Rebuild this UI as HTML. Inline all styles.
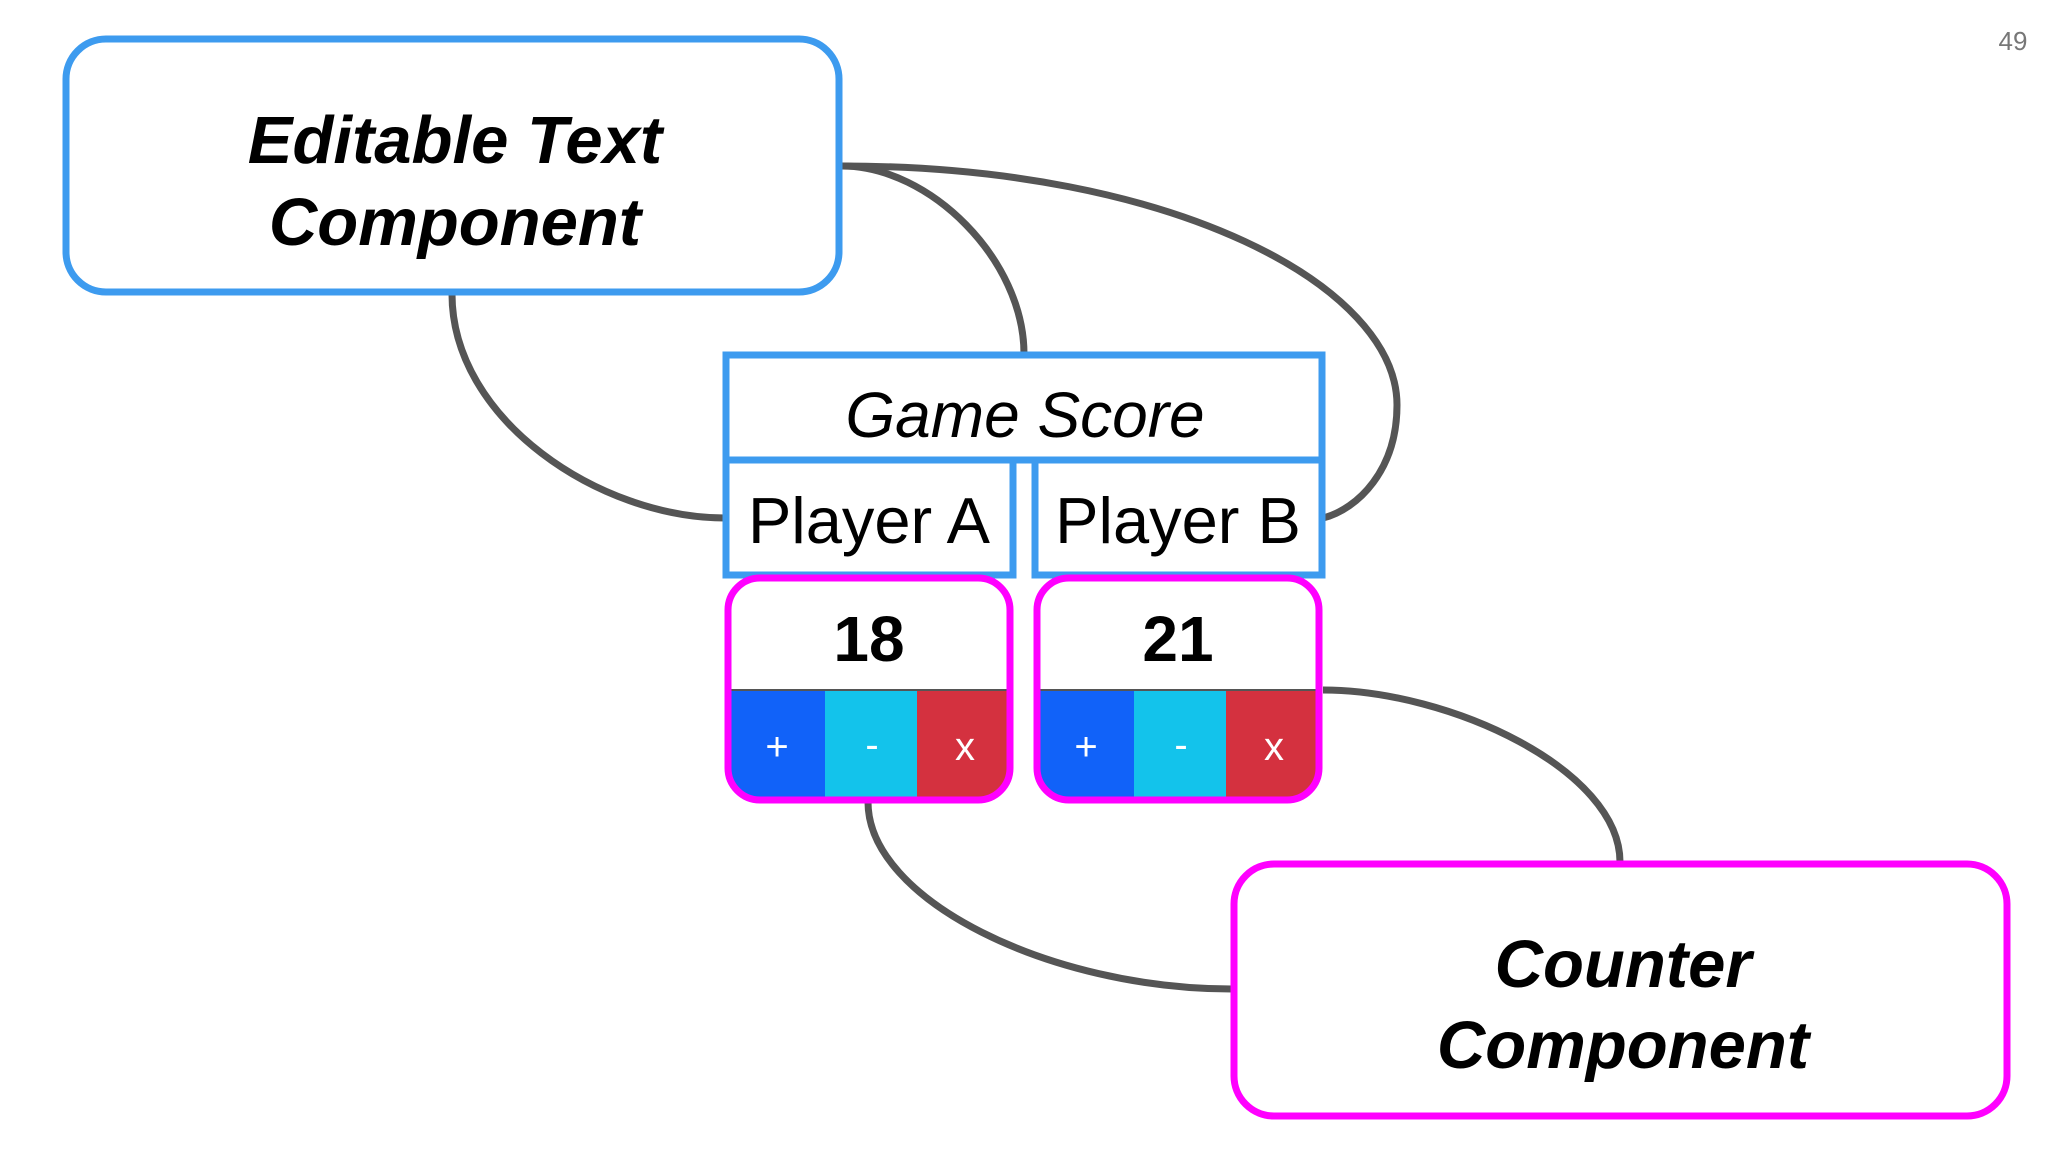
<!DOCTYPE html>
<html><head><meta charset="utf-8"><style>
html,body{margin:0;padding:0;background:#fff;}
svg{display:block;}
text{font-family:"Liberation Sans",sans-serif;}
</style></head><body>
<svg width="2048" height="1152" viewBox="0 0 2048 1152" xmlns="http://www.w3.org/2000/svg">
<rect width="2048" height="1152" fill="#fff"/>
<g fill="none" stroke="#555" stroke-width="7">
<path d="M452,294 C452,420 600,518 725,518"/>
<path d="M842,166 C930,166 1024,260 1024,354"/>
<path d="M842,166 C1175,166 1397,287 1397,405 C1397,470 1358,509 1323,518"/>
<path d="M1323,690 C1450,690 1620,770 1620,862"/>
<path d="M868,802 C868,900 1050,989 1232,989"/>
</g>
<rect x="66" y="39" width="773" height="253" rx="40" fill="#fff" stroke="#3d9bef" stroke-width="7"/>
<text x="455" y="163" font-size="67" font-weight="bold" font-style="italic" text-anchor="middle">Editable Text</text>
<text x="455" y="245" font-size="67" font-weight="bold" font-style="italic" text-anchor="middle">Component</text>

<rect x="726" y="355" width="596" height="105" fill="#fff" stroke="#3d9bef" stroke-width="7"/>
<text x="1025" y="437" font-size="64" font-style="italic" text-anchor="middle">Game Score</text>
<rect x="726" y="460" width="287" height="115" fill="#fff" stroke="#3d9bef" stroke-width="7"/>
<rect x="1035" y="460" width="287" height="115" fill="#fff" stroke="#3d9bef" stroke-width="7"/>
<text x="869" y="543" font-size="65" text-anchor="middle">Player A</text>
<text x="1178" y="543" font-size="65" text-anchor="middle">Player B</text>

<defs>
<clipPath id="c1"><rect x="728" y="578" width="282" height="222" rx="32"/></clipPath>
<clipPath id="c2"><rect x="1037" y="578" width="282" height="222" rx="32"/></clipPath>
</defs>
<g clip-path="url(#c1)">
<rect x="725" y="690" width="100" height="112" fill="#1162f9"/>
<rect x="825" y="690" width="92" height="112" fill="#13c3eb"/>
<rect x="917" y="690" width="96" height="112" fill="#d4313f"/>
<line x1="725" y1="690" x2="1013" y2="690" stroke="#555" stroke-width="2"/>
</g>
<g clip-path="url(#c2)">
<rect x="1034" y="690" width="100" height="112" fill="#1162f9"/>
<rect x="1134" y="690" width="92" height="112" fill="#13c3eb"/>
<rect x="1226" y="690" width="97" height="112" fill="#d4313f"/>
<line x1="1034" y1="690" x2="1323" y2="690" stroke="#555" stroke-width="2"/>
</g>
<rect x="728" y="578" width="282" height="222" rx="32" fill="none" stroke="#ff00ff" stroke-width="7"/>
<rect x="1037" y="578" width="282" height="222" rx="32" fill="none" stroke="#ff00ff" stroke-width="7"/>
<text x="869" y="661" font-size="64" font-weight="bold" text-anchor="middle">18</text>
<text x="1178" y="661" font-size="64" font-weight="bold" text-anchor="middle">21</text>
<g fill="#fff" font-size="40" text-anchor="middle">
<text x="777" y="760">+</text><text x="872" y="758">-</text><text x="965" y="760">x</text>
<text x="1086" y="760">+</text><text x="1181" y="758">-</text><text x="1274" y="760">x</text>
</g>

<rect x="1234" y="864" width="773" height="252" rx="40" fill="#fff" stroke="#ff00ff" stroke-width="7"/>
<text x="1623" y="987" font-size="67" font-weight="bold" font-style="italic" text-anchor="middle">Counter</text>
<text x="1623" y="1068" font-size="67" font-weight="bold" font-style="italic" text-anchor="middle">Component</text>

<text x="2013" y="50" font-size="26" fill="#777" text-anchor="middle">49</text>
</svg>
</body></html>
